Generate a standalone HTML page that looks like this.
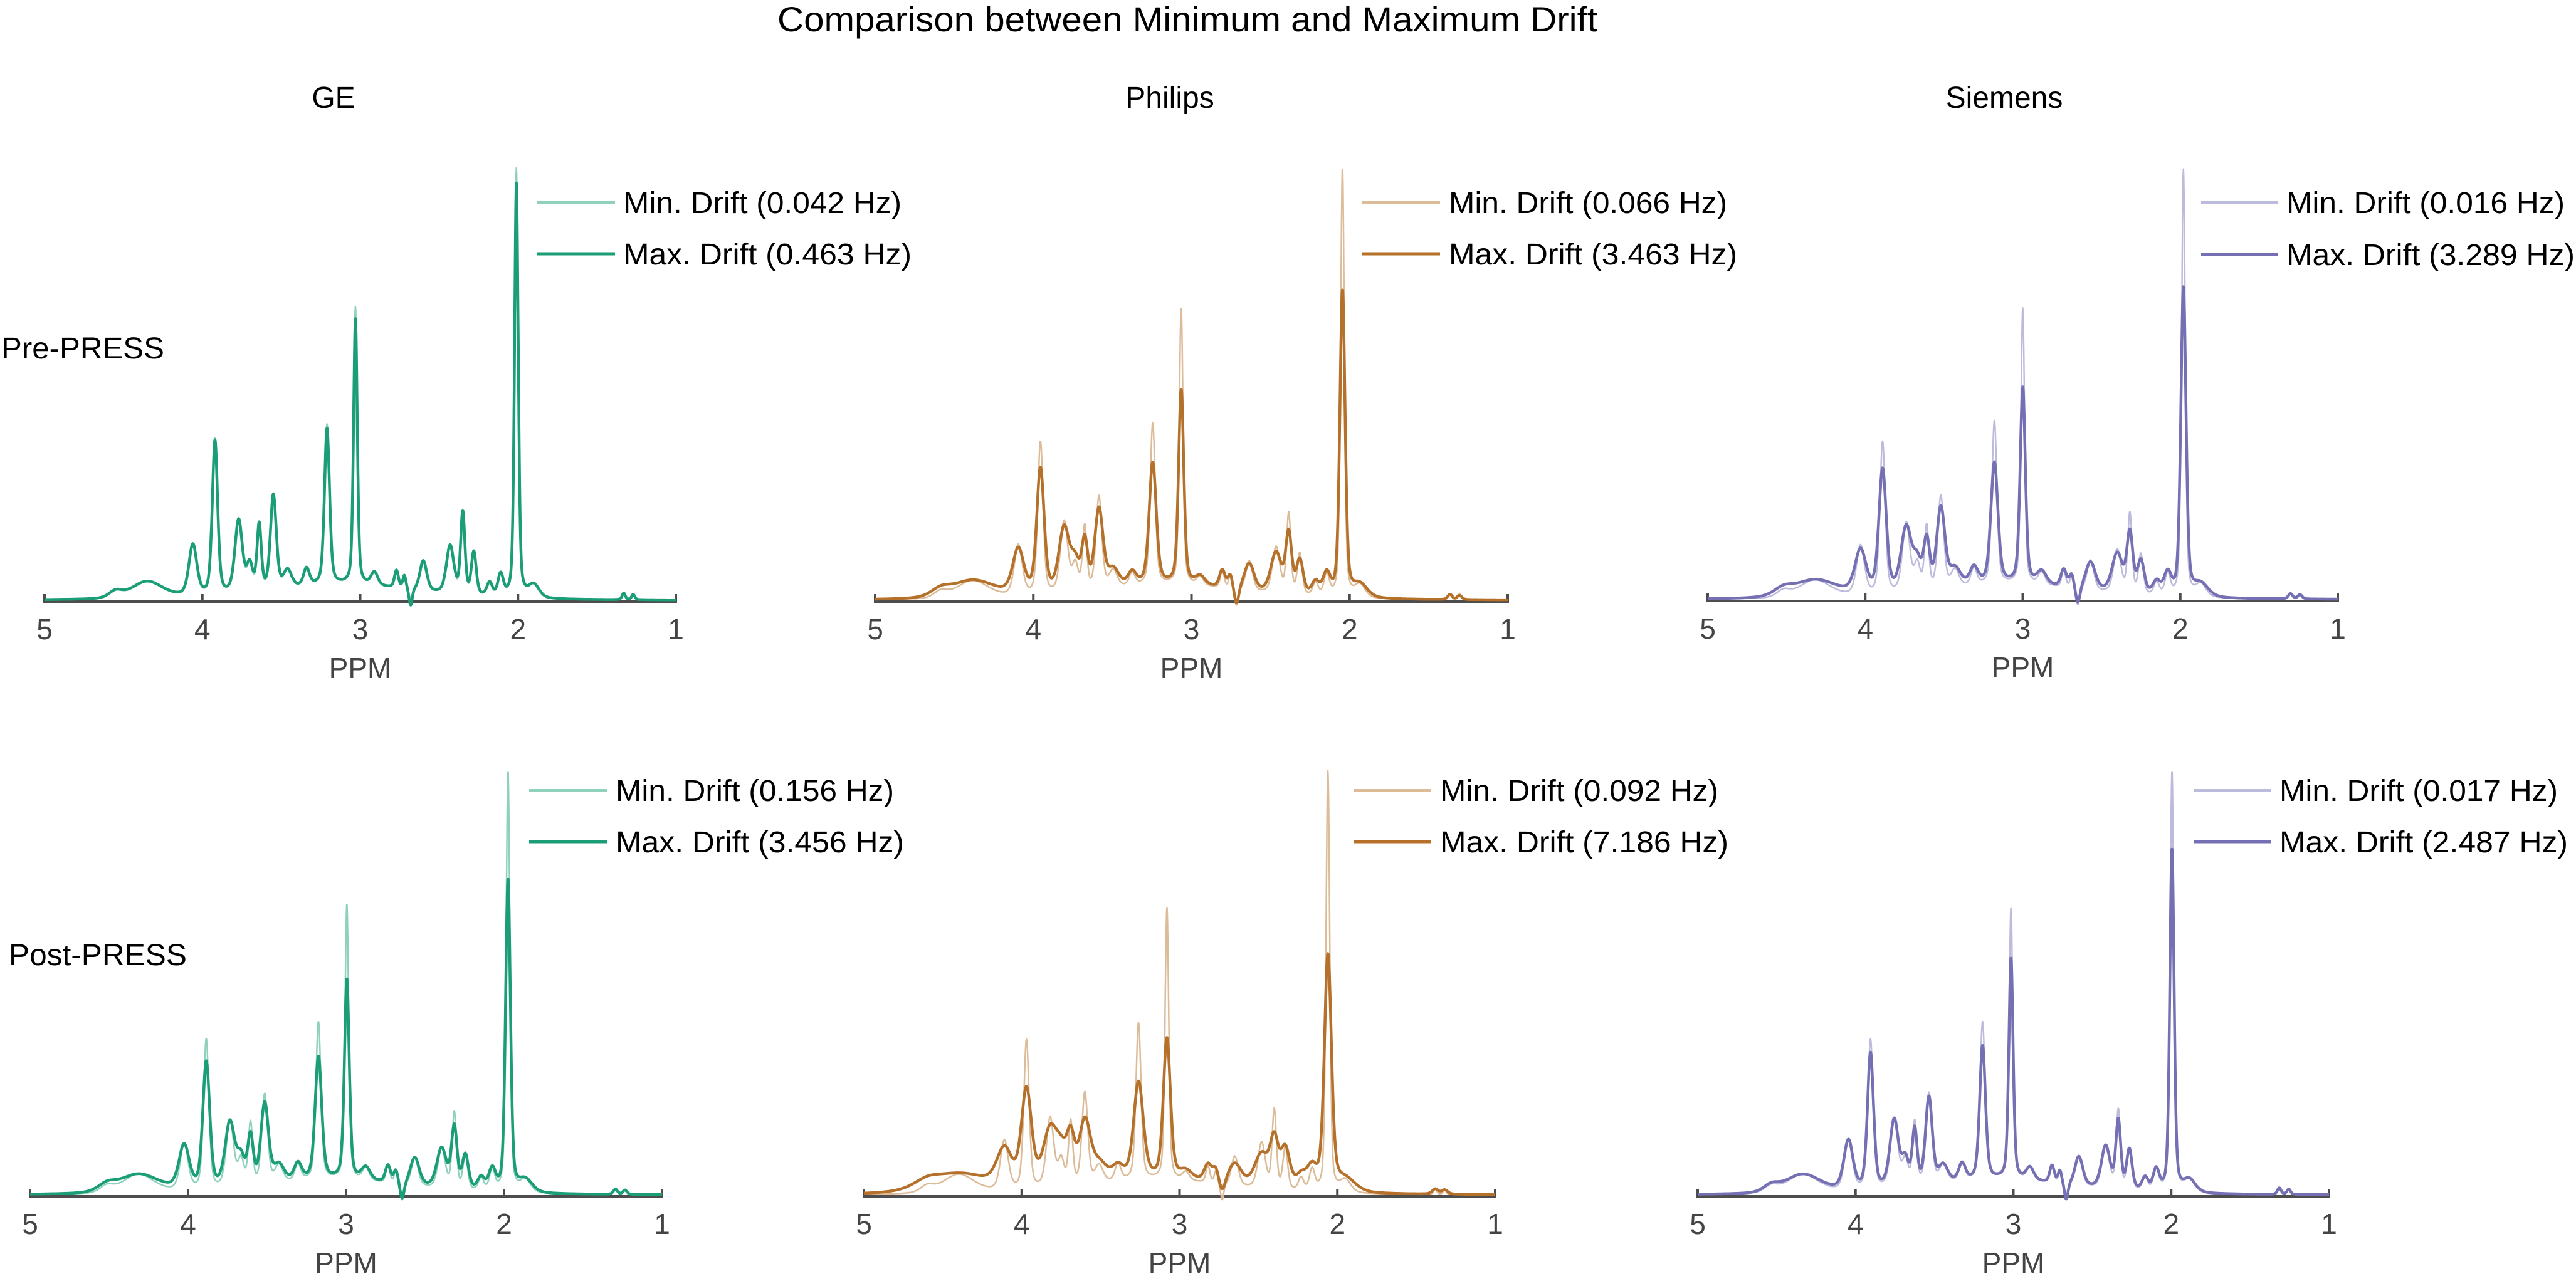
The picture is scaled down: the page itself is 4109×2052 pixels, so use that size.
<!DOCTYPE html>
<html><head><meta charset="utf-8">
<style>
html,body{margin:0;padding:0;background:#fff;}
svg{display:block;font-family:"Liberation Sans",Arial,sans-serif;}
</style></head>
<body>
<svg id="fig" width="4109" height="2052" viewBox="0 0 4109 2052" xmlns="http://www.w3.org/2000/svg">
<rect width="4109" height="2052" fill="#fff"/>
<text x="1894" y="50" font-size="56" text-anchor="middle" textLength="1308" lengthAdjust="spacingAndGlyphs">Comparison between Minimum and Maximum Drift</text>
<text x="532" y="172" font-size="48" text-anchor="middle">GE</text>
<text x="1866" y="172" font-size="48" text-anchor="middle">Philips</text>
<text x="3197" y="172" font-size="48" text-anchor="middle">Siemens</text>
<text x="2" y="572" font-size="48" textLength="260" lengthAdjust="spacingAndGlyphs">Pre-PRESS</text>
<text x="14" y="1540" font-size="48" textLength="284" lengthAdjust="spacingAndGlyphs">Post-PRESS</text>
<g id="plots"></g>
</svg>
<script>
// peak model of each spectrum (ppm positions, base widths); last entry = broad background
const peakPpm   = [4.55,4.35,4.06,3.92,3.77,3.70,3.64,3.55,3.46,3.34,3.21,3.03,2.91,2.77,2.72,2.68,2.60,2.43,2.35,2.28,2.18,2.11,2.01,1.90,1.33,1.27,3.10];
const peakWidth = [0.05,0.12,0.03,0.02,0.028,0.022,0.016,0.022,0.03,0.022,0.019,0.014,0.025,0.015,0.012,0.012,0.026,0.028,0.016,0.018,0.02,0.02,0.014,0.04,0.012,0.012,0.55];

const gePreMin   = [0.015,0.04,0.12,0.36,0.17,0.06,0.15,0.22,0.04,0.04,0.37,0.64,0.03,0.04,0.03,-0.04,0.07,0.11,0.19,0.1,0.03,0.05,0.99,0.03,0.015,0.012,0.035];
const gePreMax   = [0.015,0.04,0.118,0.355,0.167,0.06,0.15,0.217,0.04,0.04,0.36,0.612,0.03,0.04,0.03,-0.04,0.07,0.11,0.188,0.098,0.03,0.05,0.955,0.03,0.015,0.012,0.035];
const phPreMin   = [0.015,0.042,0.117,0.352,0.164,0.06,0.146,0.214,0.04,0.03,0.372,0.638,0.02,0.04,0.03,-0.04,0.07,0.107,0.185,0.095,0.03,0.05,0.99,0.03,0.012,0.01,0.035];
const phPreMax   = [0.015,0.042,0.103,0.287,0.147,0.06,0.11,0.182,0.04,0.03,0.28,0.448,0.02,0.04,0.03,-0.04,0.063,0.093,0.137,0.078,0.03,0.05,0.706,0.03,0.012,0.01,0.035];
const siPreMin   = [0.015,0.042,0.115,0.352,0.16,0.06,0.146,0.214,0.04,0.04,0.378,0.638,0.03,0.04,0.03,-0.04,0.07,0.1,0.185,0.092,0.03,0.05,0.99,0.03,0.012,0.01,0.035];
const siPreMax   = [0.015,0.042,0.1,0.285,0.147,0.06,0.11,0.184,0.04,0.04,0.28,0.453,0.03,0.04,0.03,-0.04,0.065,0.09,0.137,0.075,0.03,0.05,0.714,0.03,0.012,0.01,0.035];
const gePostMin  = [0.015,0.045,0.11,0.353,0.158,0.06,0.145,0.211,0.04,0.04,0.371,0.647,0.03,0.04,0.03,-0.04,0.066,0.093,0.18,0.08,0.03,0.05,0.99,0.03,0.012,0.01,0.035];
const gePostMax  = [0.015,0.045,0.103,0.297,0.151,0.06,0.111,0.188,0.04,0.04,0.288,0.47,0.03,0.04,0.03,-0.04,0.066,0.093,0.143,0.08,0.03,0.05,0.734,0.03,0.012,0.01,0.035];
const phPostMin  = [0.015,0.045,0.117,0.351,0.163,0.06,0.148,0.215,0.04,0.04,0.368,0.638,0.02,0.04,0.03,-0.04,0.07,0.107,0.185,0.098,0.03,0.05,0.99,0.03,0.012,0.01,0.035];
const phPostMax  = [0.015,0.045,0.085,0.226,0.127,0.06,0.101,0.14,0.04,0.03,0.226,0.328,0.02,0.04,0.03,-0.03,0.05,0.077,0.105,0.092,0.03,0.05,0.55,0.03,0.012,0.01,0.035];
const siPostMin  = [0.015,0.045,0.116,0.352,0.162,0.06,0.147,0.214,0.04,0.04,0.371,0.638,0.03,0.04,0.03,-0.04,0.069,0.099,0.185,0.093,0.03,0.05,0.99,0.03,0.015,0.012,0.035];
const siPostMax  = [0.015,0.045,0.116,0.319,0.158,0.06,0.128,0.203,0.04,0.04,0.314,0.52,0.03,0.04,0.03,-0.04,0.069,0.099,0.159,0.093,0.03,0.05,0.807,0.03,0.015,0.012,0.035];

const panelNames   = ["ge-pre","philips-pre","siemens-pre","ge-post","philips-post","siemens-post"];
const panelShift   = [0, 0.035, -0.03, -0.035, 0.05, -0.015];
const minWidthScale = [0.95, 1.0, 1.0, 1.0, 1.0, 1.0];
const maxWidthScale = [1.0, 1.4, 1.4, 1.3, 1.9, 1.15];
const minLabels = ["Min. Drift (0.042 Hz)","Min. Drift (0.066 Hz)","Min. Drift (0.016 Hz)","Min. Drift (0.156 Hz)","Min. Drift (0.092 Hz)","Min. Drift (0.017 Hz)"];
const maxLabels = ["Max. Drift (0.463 Hz)","Max. Drift (3.463 Hz)","Max. Drift (3.289 Hz)","Max. Drift (3.456 Hz)","Max. Drift (7.186 Hz)","Max. Drift (2.487 Hz)"];
const tickValues = [5,4,3,2,1];
const minSeries = [gePreMin, phPreMin, siPreMin, gePostMin, phPostMin, siPostMin];
const maxSeries = [gePreMax, phPreMax, siPreMax, gePostMax, phPostMax, siPostMax];

// layout (pixels) — not data
const layout = [
  {x0:71,  x1:1078, yb:958,  top:266,  lx0:857,  lx1:981,  tx:994,  ly1:323,  ly2:405},
  {x0:1396,x1:2405, yb:958,  top:266,  lx0:2173, lx1:2297, tx:2311, ly1:323,  ly2:405},
  {x0:2724,x1:3729, yb:957,  top:268,  lx0:3511, lx1:3634, tx:3647, ly1:323,  ly2:406},
  {x0:48,  x1:1056, yb:1907, top:1228, lx0:844,  lx1:968,  tx:982,  ly1:1261, ly2:1343},
  {x0:1378,x1:2385, yb:1907, top:1228, lx0:2160, lx1:2283, tx:2297, ly1:1261, ly2:1343},
  {x0:2708,x1:3715, yb:1907, top:1228, lx0:3499, lx1:3622, tx:3636, ly1:1261, ly2:1343}
];
const colorsMax = ["#1b9e77","#b5702a","#7570b3","#1b9e77","#b5702a","#7570b3"];
const colorsMin = ["#8fd1bc","#dcbb98","#bdbbdc","#8fd1bc","#dcbb98","#bdbbdc"];

const NS = "http://www.w3.org/2000/svg";
function mk(tag, attrs, parent){ const e=document.createElementNS(NS,tag); for(const k in attrs) e.setAttribute(k,attrs[k]); parent.appendChild(e); return e; }

function spectrum(ppm, heights, shift, wscale){
  let s=0;
  for(let i=0;i<peakPpm.length;i++){
    const w=peakWidth[i]*(i===peakPpm.length-1?1:wscale), dx=ppm-(peakPpm[i]+shift);
    const L=w*w/(dx*dx+w*w), G=Math.exp(-0.693*dx*dx/(w*w));
    s+=heights[i]*(0.4*L+0.6*G);
  }
  return s;
}

const root=document.getElementById('plots');
for(let p=0;p<6;p++){
  const L=layout[p];
  const xs = v => L.x0 + (5-v)/4*(L.x1-L.x0);
  const ys = v => L.yb - v*(L.yb-L.top);
  const g=mk('g',{},root);
  
  
  const ax=mk('line',{x1:L.x0,y1:L.yb+2,x2:L.x1,y2:L.yb+2,stroke:"#4d4d4d","stroke-width":4},g);
  
  
  tickValues.forEach(t=>{
    const tk=mk('line',{x1:xs(t),y1:L.yb+4,x2:xs(t),y2:L.yb-10,stroke:"#4d4d4d","stroke-width":4},g);
    
    
    const tl=mk('text',{x:xs(t),y:L.yb+62,"font-size":46,fill:"#444","text-anchor":"middle"},g);
    tl.textContent=String(t);
    
    
  });
  const xt=mk('text',{x:(L.x0+L.x1)/2,y:L.yb+124,"font-size":46,fill:"#444","text-anchor":"middle"},g);
  xt.textContent="PPM";
  
  
  const series=[[minSeries[p],minWidthScale[p],colorsMin[p],2.5,'min-drift-line'],[maxSeries[p],maxWidthScale[p],colorsMax[p],4.5,'max-drift-line']];
  series.forEach(([h,ws,col,sw,nm])=>{
    let d="";
    for(let v=5;v>=0.999;v-=0.002){
      const y=spectrum(v,h,panelShift[p],ws);
      d+=(d?"L":"M")+xs(v).toFixed(1)+","+ys(y).toFixed(1);
    }
    const path=mk('path',{d:d,fill:"none",stroke:col,"stroke-width":sw,"stroke-linejoin":"round"},g);
    
    
  });
  const lg=mk('g',{},g);
  
  
  const l1=mk('line',{x1:L.lx0,y1:L.ly1,x2:L.lx1,y2:L.ly1,stroke:colorsMin[p],"stroke-width":4},lg);
  
  
  const t1=mk('text',{x:L.tx,y:L.ly1+17,"font-size":48,fill:"#000",textLength:444,lengthAdjust:"spacingAndGlyphs"},lg);
  t1.textContent=minLabels[p];
  
  
  const l2=mk('line',{x1:L.lx0,y1:L.ly2,x2:L.lx1,y2:L.ly2,stroke:colorsMax[p],"stroke-width":5},lg);
  
  
  const t2=mk('text',{x:L.tx,y:L.ly2+17,"font-size":48,fill:"#000",textLength:460,lengthAdjust:"spacingAndGlyphs"},lg);
  t2.textContent=maxLabels[p];
  
  
}
</script>
</body></html>
